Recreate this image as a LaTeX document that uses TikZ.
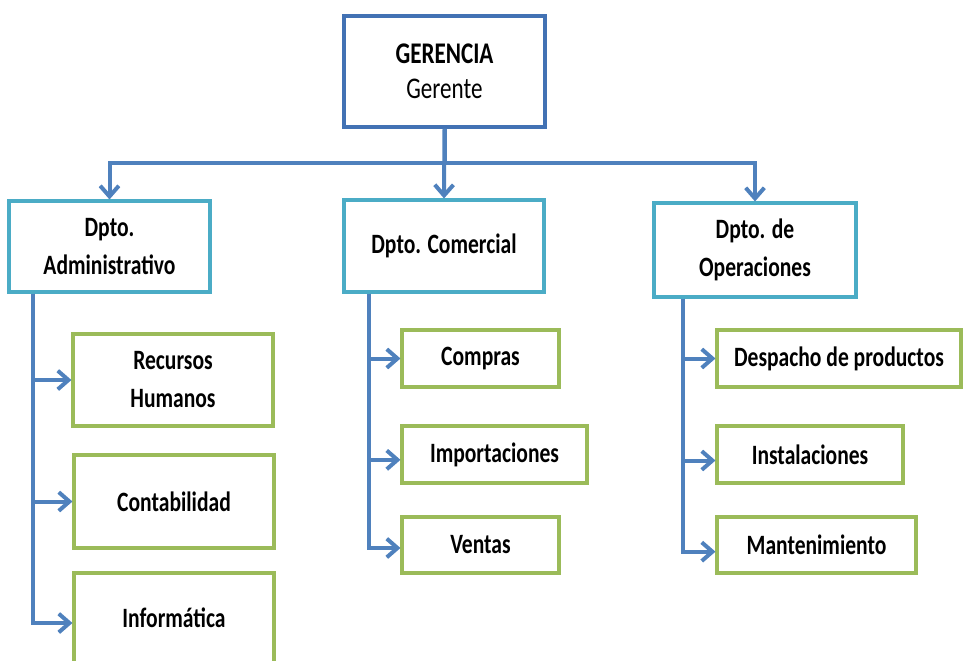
\documentclass[tikz,border=0pt]{standalone}
\usepackage{fontspec}
\setmainfont{Carlito}[FakeStretch=0.77]
\usetikzlibrary{arrows.meta,calc}
\definecolor{gerblue}{HTML}{4272B4}
\definecolor{connblue}{HTML}{4F81BD}
\definecolor{depblue}{HTML}{4BACC6}
\definecolor{kidgreen}{HTML}{9BBB59}
\tikzset{
  gerbox/.style={draw=gerblue,line width=2.6pt,fill=white,align=center,inner sep=0pt,font=\fontsize{22.5}{26.5}\selectfont},
  depbox/.style={draw=depblue,line width=2.3pt,fill=white,align=center,inner sep=0pt,font=\bfseries\fontsize{21}{28.5}\selectfont},
  kidbox/.style={draw=kidgreen,line width=2.3pt,fill=white,align=center,inner sep=0pt,font=\bfseries\fontsize{21}{28.5}\selectfont},
  conn/.style={draw=connblue,line width=3pt,-{Straight Barb[length=8pt,width=14pt,line width=3pt]}},
  sz/.style n args={2}{minimum width=#1*0.75pt,minimum height=#2*0.75pt}
}
\begin{document}
\begin{tikzpicture}[x=0.75pt,y=-0.75pt]
\useasboundingbox (0,0) rectangle (963,660);
% top
\node[gerbox,sz={201}{111}] (ger) at (444.5,71.5) {\textbf{GERENCIA}\\Gerente};
% departments
\node[depbox,sz={201}{91}] (adm) at (109.5,246.5) {Dpto.\\Administrativo};
\node[depbox,sz={200}{92}] (com) at (444,246) {Dpto. Comercial};
\node[depbox,sz={202}{94}] (ope) at (755,250) {Dpto. de\\Operaciones};
% children admin
\node[kidbox,sz={200}{92}] (rh) at (173,380) {Recursos\\Humanos};
\node[kidbox,sz={200}{93}] (cont) at (174,501.5) {Contabilidad};
\node[kidbox,sz={200}{90}] (inf) at (174,618) {Informática};
% children comercial
\node[kidbox,sz={157}{57}] (comp) at (480.5,358.5) {Compras};
\node[kidbox,sz={185}{57}] (impo) at (494.5,454.5) {Importaciones};
\node[kidbox,sz={157}{56}] (vent) at (480.5,545) {Ventas};
% children operaciones
\node[kidbox,sz={244}{57}] (desp) at (839,358.5) {Despacho de productos};
\node[kidbox,sz={186}{57}] (inst) at (810,454.5) {Instalaciones};
\node[kidbox,sz={199}{56}] (mant) at (816.5,545) {Mantenimiento};
% bus
\coordinate (bus) at (0,163);
\coordinate (ax) at (33,0);
\coordinate (cx) at (369,0);
\coordinate (ox) at (683,0);
\draw[conn] (ger.south) -- (ger.south |- bus) -| (adm.north);
\draw[conn] (ger.south) -- (ger.south |- bus) -| (ope.north);
\draw[conn] (ger.south) -- (com.north);
% admin spine
\draw[conn] (adm.south -| ax) |- (rh.west);
\draw[conn] (adm.south -| ax) |- (cont.west);
\draw[conn] (adm.south -| ax) |- ([yshift=-3.75pt]inf.west);
% comercial spine
\draw[conn] (com.south -| cx) |- (comp.west);
\draw[conn] (com.south -| cx) |- ([yshift=-4pt]impo.west);
\draw[conn] (com.south -| cx) |- ([yshift=-2.25pt]vent.west);
% operaciones spine
\draw[conn] (ope.south -| ox) |- (desp.west);
\draw[conn] (ope.south -| ox) |- ([yshift=-4.5pt]inst.west);
\draw[conn] (ope.south -| ox) |- ([yshift=-5pt]mant.west);
\end{tikzpicture}
\end{document}
